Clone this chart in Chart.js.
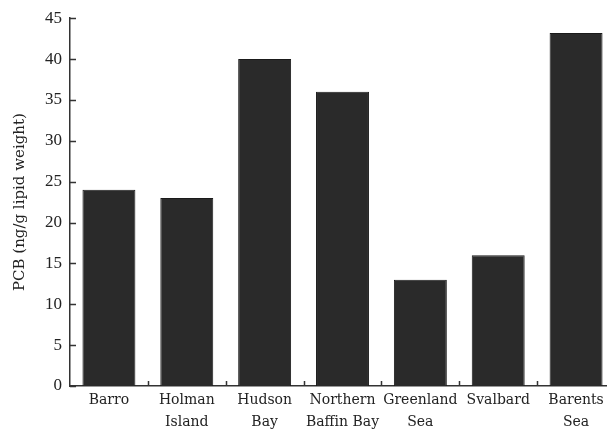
<!DOCTYPE html>
<html>
<head>
<meta charset="utf-8">
<script src="https://cdn.jsdelivr.net/npm/chart.js@4"></script>
<style>
  html, body { margin: 0; padding: 0; background: #fff; overflow: hidden; }
  #wrap { width: 615px; height: 429px; }
</style>
</head>
<body>
<div id="wrap"><canvas id="pcbChart"></canvas></div>
<script>
// data
const sites = [['Barro'], ['Holman', 'Island'], ['Hudson', 'Bay'], ['Northern', 'Baffin Bay'], ['Greenland', 'Sea'], ['Svalbard'], ['Barents', 'Sea']];
const pcbValues = [24, 23, 40, 36, 13, 16, 43.2];
const yTicks = [0, 5, 10, 15, 20, 25, 30, 35, 40, 45];

const inkColor = '#333';

// small inward ticks, like the scanned figure
const innerTicks = {
  id: 'innerTicks',
  afterDraw(chart) {
    const ctx = chart.ctx;
    const x = chart.scales.x;
    const y = chart.scales.y;
    ctx.save();
    ctx.strokeStyle = inkColor;
    ctx.lineWidth = 1.5;
    ctx.beginPath();
    yTicks.forEach(v => {
      const py = Math.round(y.getPixelForValue(v)) + 0.5;
      ctx.moveTo(x.left, py);
      ctx.lineTo(x.left + 6, py);
    });
    const step = x.getPixelForValue(1) - x.getPixelForValue(0);
    for (let i = 1; i < sites.length; i++) {
      const px = Math.round(x.getPixelForValue(i) - step / 2) + 0.5;
      ctx.moveTo(px, y.bottom);
      ctx.lineTo(px, y.bottom - 5);
    }
    ctx.stroke();
    ctx.restore();
  }
};

new Chart(document.getElementById('pcbChart'), {
  type: 'bar',
  data: {
    labels: sites,
    datasets: [{
      data: pcbValues,
      backgroundColor: '#2a2a2a',
      borderColor: '#1a1a1a',
      borderWidth: 1,
      barPercentage: 0.68,
      categoryPercentage: 1.0
    }]
  },
  options: {
    responsive: true,
    maintainAspectRatio: false,
    animation: false,
    layout: { padding: { top: 10, right: 0, left: 0, bottom: 0 } },
    plugins: {
      legend: { display: false },
      tooltip: { enabled: false }
    },
    scales: {
      x: {
        afterFit(scale) { scale.height = 43; },
        grid: { display: false, drawTicks: false },
        border: { color: inkColor, width: 1.5 },
        ticks: {
          color: '#222',
          padding: 4,
          maxRotation: 0,
          autoSkip: false,
          font: { family: 'DejaVu Serif', size: 14, lineHeight: 1.55 }
        }
      },
      y: {
        min: 0,
        max: 45,
        afterFit(scale) { scale.width = 70; },
        afterBuildTicks(scale) { scale.ticks = yTicks.map(v => ({ value: v })); },
        grid: { display: false, drawTicks: false },
        border: { color: inkColor, width: 1.5 },
        ticks: {
          color: '#222',
          padding: 8,
          font: { family: 'Liberation Serif', size: 17 }
        },
        title: {
          display: true,
          text: 'PCB (ng/g lipid weight)',
          color: '#222',
          padding: { top: 11, bottom: 0 },
          font: { family: 'DejaVu Serif', size: 15 }
        }
      }
    }
  },
  plugins: [innerTicks]
});
</script>
</body>
</html>
